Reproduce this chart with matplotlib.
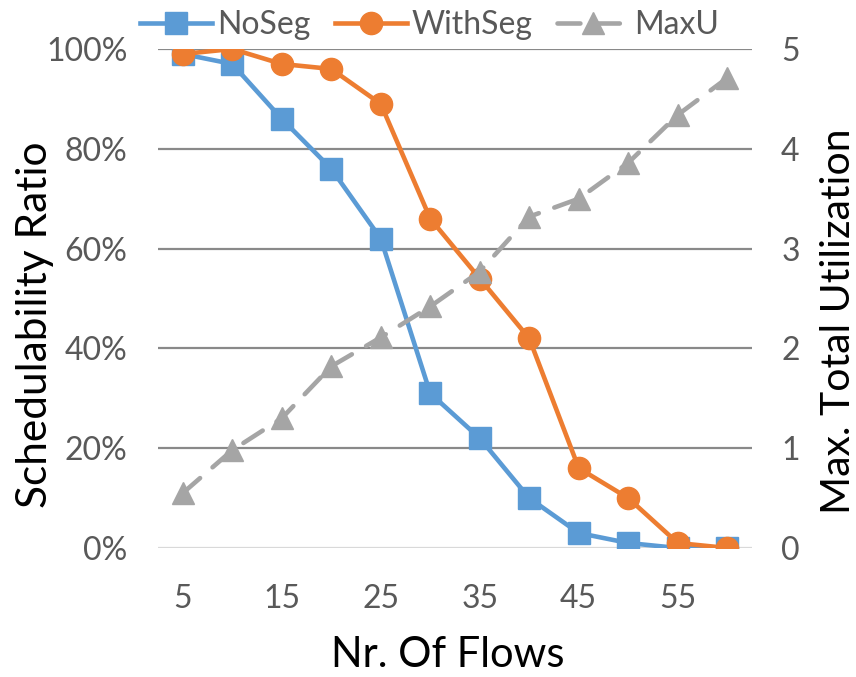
import matplotlib
matplotlib.use("Agg")
import matplotlib.pyplot as plt
from matplotlib.ticker import FuncFormatter, FixedLocator

plt.rcParams['font.family'] = ['Lato', 'DejaVu Sans']

flows = [5, 10, 15, 20, 25, 30, 35, 40, 45, 50, 55, 60]
no_seg = [99, 97, 86, 76, 62, 31, 22, 10, 3, 1, 0, 0]
with_seg = [99, 100, 97, 96, 89, 66, 54, 42, 16, 10, 1, 0]
max_u = [0.55, 0.98, 1.30, 1.82, 2.11, 2.42, 2.77, 3.32, 3.50, 3.86, 4.34, 4.71]
x_tick_labels = [5, 15, 25, 35, 45, 55]

BLUE = '#5B9BD5'
ORANGE = '#ED7D31'
GRAY = '#A5A5A5'
TICK_COLOR = '#595959'

W, H = 856, 677
fig = plt.figure(figsize=(W / 100, H / 100), dpi=100)
ax = fig.add_axes([158 / W, 1 - 548 / H, (752 - 158) / W, (548 - 49) / H])
ax2 = ax.twinx()

l1, = ax.plot(flows, no_seg, color=BLUE, lw=3.3, marker='s', ms=15.5,
              label='NoSeg', zorder=3)
l2, = ax.plot(flows, with_seg, color=ORANGE, lw=3.3, marker='o', ms=16,
              label='WithSeg', zorder=4)
l3, = ax2.plot(flows, max_u, color=GRAY, lw=3.3, marker='^', ms=16.5,
               label='MaxU', dash_capstyle='round', zorder=3)
l3.set_dashes((5, 3.6))

ax.set_xlim(2.5, 62.5)
ax.set_ylim(0, 100)
ax2.set_ylim(0, 5)

ax.yaxis.set_major_locator(FixedLocator([0, 20, 40, 60, 80, 100]))
ax.yaxis.set_major_formatter(FuncFormatter(lambda v, p: f'{int(v)}%'))
ax2.yaxis.set_major_locator(FixedLocator([0, 1, 2, 3, 4, 5]))
ax.xaxis.set_major_locator(FixedLocator(x_tick_labels))

for a in (ax, ax2):
    for s in a.spines.values():
        s.set_visible(False)
    a.tick_params(length=0, labelsize=23, colors=TICK_COLOR)
ax.tick_params(axis='y', pad=22)
ax.tick_params(axis='x', pad=26)
ax2.tick_params(axis='y', pad=21)

# horizontal gridlines, the baseline lighter
for v in [20, 40, 60, 80, 100]:
    ax.axhline(v, color='#898989', lw=1.6, zorder=1)
ax.axhline(0, color='#D9D9D9', lw=1.6, zorder=1)

# axis titles
fig.text(35 / W, 1 - 325 / H, 'Schedulability Ratio', rotation=90,
         ha='center', va='center', fontsize=30.5, color='black')
fig.text(838 / W, 1 - 321 / H, 'Max. Total Utilization', rotation=90,
         ha='center', va='center', fontsize=29.5, color='black')
fig.text(448 / W, 1 - 655 / H, 'Nr. Of Flows',
         ha='center', va='center', fontsize=30, color='black')

fig.legend(handles=[l1, l2, l3], loc='center left',
           bbox_to_anchor=(140 / W, 1 - 25 / H),
           ncol=3, frameon=False, fontsize=23, handlelength=2.26,
           handletextpad=0.16, columnspacing=0.75, labelcolor=TICK_COLOR,
           borderaxespad=0, borderpad=0)

fig.savefig('out.png', dpi=100)
